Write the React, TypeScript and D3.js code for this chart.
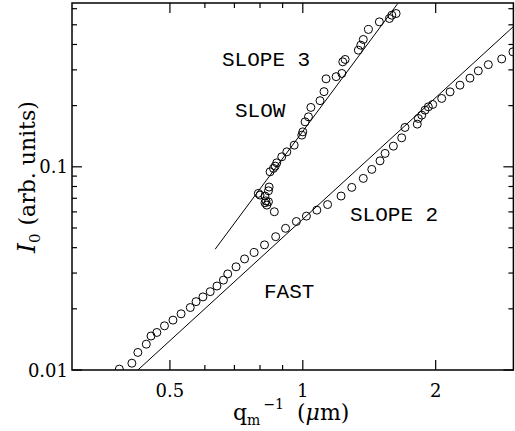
import React from "react";
import * as d3 from "d3";

// Fast mode (lower series): q_m^-1 (µm), I0 (arb. units)
const fastX = [0.384, 0.41, 0.423, 0.442, 0.453, 0.467, 0.486, 0.508, 0.530, 0.556, 0.573, 0.594, 0.617, 0.639, 0.661, 0.676, 0.706, 0.738, 0.776, 0.819, 0.868, 0.914, 0.967, 1.019, 1.076, 1.138, 1.221, 1.291, 1.371, 1.433, 1.496, 1.536, 1.604, 1.675, 1.704, 1.817, 1.827, 1.860, 1.892, 1.925, 1.969, 2.064, 2.156, 2.270, 2.392, 2.498, 2.632, 2.822, 2.993];
const fastY = [0.0101, 0.0108, 0.0122, 0.0134, 0.0147, 0.0153, 0.0165, 0.0176, 0.0189, 0.0203, 0.0217, 0.0229, 0.0243, 0.0259, 0.0277, 0.0297, 0.0322, 0.0352, 0.0379, 0.0413, 0.0453, 0.0498, 0.0538, 0.0572, 0.0612, 0.0652, 0.0718, 0.0792, 0.0877, 0.0971, 0.107, 0.1164, 0.1264, 0.1389, 0.1562, 0.1622, 0.173, 0.1796, 0.19, 0.1973, 0.2027, 0.217, 0.2338, 0.2522, 0.2731, 0.2966, 0.3183, 0.3395, 0.368];

// Slow mode (upper series)
const slowX = [0.793, 0.800, 0.821, 0.836, 0.839, 0.825, 0.821, 0.836, 0.829, 0.862, 0.843, 0.858, 0.866, 0.873, 0.896, 0.920, 0.956, 0.995, 1.000, 1.012, 1.030, 1.043, 1.094, 1.117, 1.129, 1.190, 1.226, 1.232, 1.247, 1.336, 1.353, 1.371, 1.408, 1.491, 1.571, 1.591, 1.627];
const slowY = [0.0740, 0.0726, 0.0718, 0.0762, 0.0795, 0.0680, 0.0665, 0.0673, 0.0648, 0.0601, 0.0945, 0.0982, 0.1008, 0.1046, 0.1120, 0.1185, 0.1278, 0.1432, 0.1486, 0.1665, 0.1762, 0.1960, 0.2116, 0.2344, 0.2710, 0.2778, 0.2880, 0.3286, 0.3376, 0.3750, 0.3968, 0.4233, 0.4741, 0.5168, 0.5370, 0.5574, 0.5681];

// Fitted power-law lines (endpoints)
const fastLineX = [0.423, 3.0];
const fastLineY = [0.01, 0.49];
const slowLineX = [0.633, 1.64];
const slowLineY = [0.0393, 0.635];

const xMajor = [0.5, 1, 2];
const xMajorLabels = ["0.5", "1", "2"];
const xMinor = [0.6, 0.7, 0.8, 0.9];
const yMajor = [0.01, 0.1];
const yMajorLabels = ["0.01", "0.1"];
const yMinor = [0.02, 0.03, 0.04, 0.05, 0.06, 0.07, 0.08, 0.09, 0.2, 0.3, 0.4, 0.5, 0.6];

const W = 515, H = 431;
const L = 72, R = 513.4, T = 3, B = 370;

export default function App() {
  const x = d3.scaleLog().domain([0.3, 3]).range([L, R]);
  const y = d3.scaleLog().domain([0.01, 0.64]).range([B, T]);
  const line = d3.line<[number, number]>().x(d => x(d[0])).y(d => y(d[1]));
  const fastLine = line(fastLineX.map((v, i) => [v, fastLineY[i]] as [number, number]));
  const slowLine = line(slowLineX.map((v, i) => [v, slowLineY[i]] as [number, number]));
  const serif = "'DejaVu Serif', serif";
  const mono = "'Liberation Mono', monospace";
  const majLen = 10, minLen = 5;
  return (
    <div style={{ position: "absolute", left: 0, top: 0 }}>
      <svg width={W} height={H} style={{ display: "block", background: "#fff" }}>
        <defs>
          <clipPath id="plot">
            <rect x={L} y={T} width={R - L} height={B - T} />
          </clipPath>
        </defs>
        <g clipPath="url(#plot)" fill="none" stroke="#000">
          <path d={fastLine || ""} strokeWidth={1} />
          <path d={slowLine || ""} strokeWidth={1} />
          {fastX.map((v, i) => (
            <circle key={"f" + i} cx={x(v)} cy={y(fastY[i])} r={4} strokeWidth={1} />
          ))}
          {slowX.map((v, i) => (
            <circle key={"s" + i} cx={x(v)} cy={y(slowY[i])} r={4} strokeWidth={1} />
          ))}
        </g>
        <g stroke="#000" strokeWidth={1.2}>
          {xMajor.map(v => (
            <g key={"xm" + v}>
              <line x1={x(v)} x2={x(v)} y1={B} y2={B - majLen} />
              <line x1={x(v)} x2={x(v)} y1={T} y2={T + majLen} />
            </g>
          ))}
          {xMinor.map(v => (
            <g key={"xn" + v}>
              <line x1={x(v)} x2={x(v)} y1={B} y2={B - minLen} />
              <line x1={x(v)} x2={x(v)} y1={T} y2={T + minLen} />
            </g>
          ))}
          {yMajor.map(v => (
            <g key={"ym" + v}>
              <line x1={L} x2={L + majLen} y1={y(v)} y2={y(v)} />
              <line x1={R} x2={R - majLen} y1={y(v)} y2={y(v)} />
            </g>
          ))}
          {yMinor.map(v => (
            <g key={"yn" + v}>
              <line x1={L} x2={L + minLen} y1={y(v)} y2={y(v)} />
              <line x1={R} x2={R - minLen} y1={y(v)} y2={y(v)} />
            </g>
          ))}
          <rect x={L} y={T} width={R - L} height={B - T} fill="none" strokeWidth={1.5} />
        </g>
        <g fontFamily={serif} fontSize={18} fill="#000">
          {xMajor.map((v, i) => (
            <text key={"xl" + v} x={x(v)} y={397} textAnchor="middle">{xMajorLabels[i]}</text>
          ))}
          {yMajor.map((v, i) => (
            <text key={"yl" + v} x={68} y={y(v) + 6.5} textAnchor="end">{yMajorLabels[i]}</text>
          ))}
        </g>
        <text x={233} y={420} fontFamily={serif} fontSize={22} fill="#000">
          q<tspan fontSize={14} dy={5}>m</tspan>
          <tspan fontSize={14} dy={-16} dx={3}>−1</tspan>
          <tspan dy={11} dx={13}>(</tspan>
          <tspan fontStyle="italic">μ</tspan>
          <tspan>m)</tspan>
        </text>
        <text transform="translate(35,253) rotate(-90)" fontFamily={serif} fontSize={22} fill="#000">
          <tspan fontStyle="italic" fontSize={25}>I</tspan>
          <tspan fontSize={15} dy={5}>0</tspan>
          <tspan dy={-5} dx={8}>(arb. units)</tspan>
        </text>
        <g fontFamily={mono} fontSize={21} fill="#000">
          <text x={222} y={66}>SLOPE 3</text>
          <text x={235} y={117}>SLOW</text>
          <text x={350} y={221}>SLOPE 2</text>
          <text x={264} y={298}>FAST</text>
        </g>
      </svg>
    </div>
  );
}
